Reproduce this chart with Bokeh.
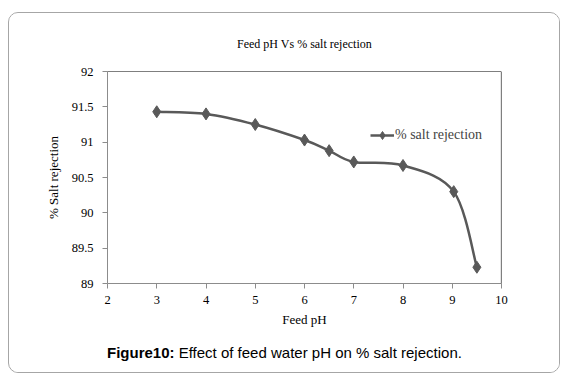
from bokeh.plotting import figure
from bokeh.models import Span, Legend, LegendItem, FixedTicker, Div
from bokeh.layouts import column
from bokeh.embed import file_html
from bokeh.resources import INLINE

# data
ph = [3, 4, 5, 6, 6.5, 7, 8, 9.03, 9.5]
rejection = [91.43, 91.40, 91.25, 91.03, 90.88, 90.72, 90.67, 90.30, 89.23]
series_name = "% salt rejection"
x_ticks = [2, 3, 4, 5, 6, 7, 8, 9, 10]
y_ticks = [89, 89.5, 90, 90.5, 91, 91.5, 92]
y_tick_labels = ["89", "89.5", "90", "90.5", "91", "91.5", "92"]

SERIF = "Liberation Serif"
SANS = "Liberation Sans"
GREY = "#595959"
AXIS = "#8c8c8c"

p = figure(width=552, height=322, output_backend="svg", toolbar_location=None,
           x_range=(2, 10), y_range=(89, 92),
           min_border_left=98, min_border_right=58, min_border_top=58, min_border_bottom=52)
p.outline_line_color = None
p.xgrid.visible = False
p.ygrid.visible = False
p.background_fill_color = "white"
p.border_fill_color = "white"

p.title.text = "Feed pH Vs % salt rejection"
p.title.align = "center"
p.title.text_font = SERIF
p.title.text_font_size = "12px"
p.title.text_font_style = "normal"
p.title.text_color = "black"
p.title.standoff = 42

# smoothed line (Catmull-Rom style bezier through the data points)
n = len(ph)
x0, y0, x1, y1, cx0, cy0, cx1, cy1 = [], [], [], [], [], [], [], []
for i in range(n - 1):
    xp, yp = (ph[i - 1], rejection[i - 1]) if i > 0 else (ph[i], rejection[i])
    xn, yn = (ph[i + 2], rejection[i + 2]) if i + 2 < n else (ph[i + 1], rejection[i + 1])
    x0.append(ph[i]); y0.append(rejection[i])
    x1.append(ph[i + 1]); y1.append(rejection[i + 1])
    cx0.append(ph[i] + (ph[i + 1] - xp) / 6); cy0.append(rejection[i] + (rejection[i + 1] - yp) / 6)
    cx1.append(ph[i + 1] - (xn - ph[i]) / 6); cy1.append(rejection[i + 1] - (yn - rejection[i]) / 6)

curve = p.bezier(x0=x0, y0=y0, x1=x1, y1=y1, cx0=cx0, cy0=cy0, cx1=cx1, cy1=cy1,
                 line_color=GREY, line_width=2.5)
pts = p.scatter(ph, rejection, marker="diamond", size=12, fill_color=GREY, line_color=GREY)

legend = Legend(items=[LegendItem(label=series_name, renderers=[curve, pts])],
                location=(263, 138), border_line_color=None, background_fill_alpha=0,
                glyph_width=24, label_text_font=SERIF, label_text_font_size="14px",
                padding=0, margin=0, label_standoff=1)
p.add_layout(legend, "center")

# top/right black borders
p.add_layout(Span(location=92, dimension="width", line_color="black", line_width=1.2))
p.add_layout(Span(location=10, dimension="height", line_color="black", line_width=1.2))

for ax in (p.xaxis[0], p.yaxis[0]):
    ax.axis_line_color = AXIS
    ax.major_tick_line_color = AXIS
    ax.minor_tick_line_color = None
    ax.major_tick_in = 0
    ax.major_tick_out = 5
    ax.major_label_text_font = SERIF
    ax.major_label_text_font_size = "12.5px"
    ax.major_label_text_color = "black"
    ax.axis_label_text_font = SERIF
    ax.axis_label_text_font_size = "13px"
    ax.axis_label_text_font_style = "normal"
    ax.axis_label_text_color = "black"

p.xaxis.ticker = FixedTicker(ticks=x_ticks)
p.yaxis.ticker = FixedTicker(ticks=y_ticks)
p.yaxis.major_label_overrides = {t: l for t, l in zip(y_ticks, y_tick_labels)}
p.xaxis.axis_label = "Feed pH"
p.yaxis.axis_label = "% Salt rejection"
p.xaxis.major_label_standoff = 7
p.xaxis.axis_label_standoff = 5
p.yaxis.major_label_standoff = 9
p.yaxis.axis_label_standoff = 8

caption = Div(text="<b>Figure10:</b> Effect of feed water pH on % salt rejection.",
              width=552, height=39,
              styles={"font-family": SANS, "font-size": "15px", "line-height": "17px",
                      "color": "black", "padding-left": "93px", "padding-top": "4px",
                      "box-sizing": "border-box", "background": "white"})

layout = column(p, caption, spacing=0, width=552, height=361, sizing_mode="fixed",
                styles={"border": "1px solid #a6a6a6", "border-radius": "10px",
                        "margin-top": "12px", "margin-left": "8px", "background": "white",
                        "overflow": "hidden"})

open("out.html", "w").write(file_html(layout, INLINE))
